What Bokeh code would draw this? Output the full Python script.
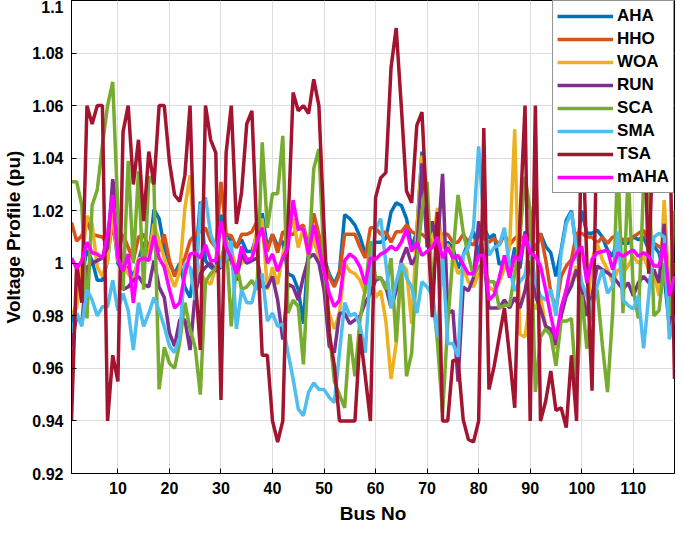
from bokeh.plotting import figure
from bokeh.models import FixedTicker, Legend, LegendItem, Range1d
from bokeh.embed import file_html
from bokeh.resources import INLINE

bus = list(range(1, 119))

AHA = [0.976, 0.985, 0.995, 1.005, 1.001, 0.9935, 0.9935, 1.001, 1.0185, 1.0,
       0.997, 0.9985, 0.995, 1.001, 1.008, 1.002, 1.0205, 1.017, 1.006, 1.0,
       0.996, 1.0, 0.991, 0.987, 1.0, 1.0235, 1.001, 0.9985, 0.997, 1.0185,
       1.011, 1.0085, 1.006, 1.009, 1.0045, 1.0045, 1.011, 1.019, 1.006, 1.011,
       1.0065, 1.0085, 0.996, 0.995, 0.99, 0.977, 1.006, 1.0085, 1.0035, 1.002,
       0.996, 0.992, 0.997, 1.0185, 1.017, 1.0145, 1.01, 1.0035, 1.006, 1.008,
       1.008, 1.0095, 1.0195, 1.023, 1.022, 1.017, 1.006, 1.012, 1.0425, 1.016,
       1.012, 1.016, 1.006, 1.008, 1.006, 0.998, 1.003, 1.008, 1.012, 1.003,
       1.0135, 1.0095, 1.011, 0.9995, 1.001, 0.996, 1.006, 0.998, 1.012, 1.01,
       1.005, 1.0114, 1.0064, 1.004, 0.995, 1.005, 1.0164, 1.02, 1.005, 1.02,
       1.0114, 1.0114, 1.0126, 1.01, 1.005, 1.0026, 1.01, 1.0076, 1.0076, 1.01,
       1.009, 1.01, 1.005, 1.0064, 1.004, 0.995, 0.976, 0.995]

HHO = [1.0155, 1.0085, 1.0105, 1.016, 1.011, 1.0105, 1.01, 1.007, 1.0135, 1.0045,
       1.011, 1.006, 1.001, 1.01, 1.011, 1.006, 1.011, 1.0045, 1.011, 1.001,
       0.995, 0.9985, 1.002, 1.0085, 1.011, 1.012, 1.0135, 1.0085, 1.006, 1.031,
       1.011, 1.0105, 1.006, 1.011, 1.011, 1.012, 1.016, 1.0145, 1.0045, 1.011,
       1.004, 1.012, 1.011, 1.011, 1.0135, 1.0145, 1.006, 1.019, 1.011, 1.001,
       0.995, 0.991, 0.996, 1.011, 1.011, 1.011, 1.006, 1.002, 1.0135, 1.0135,
       1.011, 1.012, 1.008, 1.012, 1.012, 1.0145, 1.012, 1.011, 1.011, 1.0095,
       1.008, 1.012, 1.011, 1.011, 1.008, 1.008, 1.011, 1.008, 1.007, 1.011,
       1.0095, 1.008, 1.0095, 1.007, 1.011, 1.007, 1.0095, 1.011, 1.007, 1.01,
       1.005, 1.0114, 1.0014, 0.989, 0.9826, 0.995, 0.999, 1.0014, 1.0114, 1.0114,
       1.01, 1.01, 1.0076, 1.01, 1.0076, 1.01, 1.01, 1.009, 1.009, 1.01,
       1.0114, 1.0126, 1.0076, 1.0076, 1.0064, 1.005, 0.9876, 1.0]

WOA = [0.981, 0.983, 1.0, 1.018, 1.015, 0.9985, 0.995, 1.001, 1.02, 1.001,
       1.0, 0.996, 0.9935, 1.002, 1.001, 1.0035, 1.015, 1.0085, 1.002, 0.996,
       0.991, 0.997, 1.021, 1.0335, 1.0035, 0.996, 0.9935, 0.992, 0.9985, 1.001,
       1.0085, 1.005, 0.998, 1.0, 1.002, 1.001, 1.0135, 1.017, 0.99, 0.9985,
       0.992, 1.0035, 1.01, 1.017, 1.006, 1.0135, 1.002, 1.01, 1.002, 0.99,
       0.981, 0.975, 0.981, 1.0, 0.997, 0.996, 0.9935, 0.9885, 0.996, 0.987,
       0.9895, 0.978, 0.956, 0.9695, 1.0, 0.9975, 0.977, 1.012, 1.041, 1.012,
       1.006, 1.021, 1.006, 1.007, 1.002, 0.996, 0.998, 0.993, 0.991, 0.996,
       0.9995, 0.991, 0.9895, 0.993, 0.998, 1.006, 1.051, 0.973, 0.972, 0.986,
       0.9826, 0.9876, 0.976, 0.9726, 0.9676, 0.98, 0.99, 0.9926, 0.999, 0.984,
       0.98, 1.0014, 1.0076, 1.0014, 0.9976, 0.9926, 0.9976, 0.9964, 0.999, 1.0026,
       1.0, 1.0026, 0.9976, 0.9964, 0.9876, 1.024, 0.9876, 0.995]

RUN = [0.9685, 0.98, 0.977, 0.9985, 1.0, 1.001, 1.002, 1.006, 1.032, 1.0185,
       0.99, 0.991, 0.9935, 0.995, 0.992, 0.991, 1.001, 0.991, 0.987, 0.9735,
       0.9685, 0.9785, 0.9785, 0.967, 0.9885, 0.996, 0.9985, 1.0, 0.997, 0.9985,
       1.0035, 1.001, 0.9935, 1.0035, 1.0, 1.001, 1.002, 0.991, 0.991, 0.995,
       0.986, 0.971, 0.992, 0.991, 0.986, 0.995, 1.002, 1.0035, 1.0, 0.99,
       0.9685, 0.966, 0.981, 0.981, 0.977, 0.9785, 0.98, 0.985, 0.9885, 0.9935,
       0.9945, 0.991, 0.983, 0.9895, 1.001, 1.006, 0.9995, 1.003, 1.038, 1.006,
       1.016, 1.006, 1.034, 0.981, 0.982, 0.955, 0.991, 0.9895, 0.9945, 1.016,
       1.001, 0.983, 0.983, 0.983, 0.986, 0.983, 0.987, 0.983, 0.9895, 1.001,
       0.9876, 0.9826, 0.976, 0.975, 0.969, 0.98, 0.9876, 0.9914, 0.9976, 0.99,
       0.98, 0.9876, 0.999, 0.9976, 0.9964, 0.995, 0.9926, 0.99, 0.9926, 0.9876,
       0.9926, 0.995, 0.9926, 0.9976, 0.9926, 1.015, 0.976, 0.995]

SCA = [1.031, 1.031, 1.022, 0.979, 1.022, 1.028, 1.045, 1.06, 1.069, 1.02,
       0.99, 1.039, 1.0, 1.035, 0.99, 1.033, 1.03, 0.952, 0.968, 0.962,
       0.96, 0.97, 0.985, 0.975, 0.968, 0.95, 0.993, 0.996, 0.998, 1.0,
       1.01, 0.976, 1.0, 0.99, 0.991, 0.9935, 0.99, 1.046, 1.0135, 1.0265,
       1.0265, 1.0485, 0.981, 0.986, 0.9835, 0.9615, 1.001, 1.036, 1.0435, 1.0,
       0.975, 0.955, 0.95, 0.945, 0.973, 0.957, 0.979, 0.99, 1.0085, 0.9945,
       0.9945, 0.99, 1.002, 0.97, 1.0, 0.957, 0.9658, 1.0, 1.02, 1.031,
       0.99, 0.97, 0.943, 0.977, 1.003, 1.026, 1.012, 1.003, 0.995, 0.999,
       0.998, 0.993, 0.993, 0.983, 0.984, 0.984, 0.996, 1.01, 1.033, 1.02,
       0.951, 0.972, 0.975, 0.9725, 0.961, 0.978, 0.978, 0.979, 0.951, 0.988,
       0.9675, 0.985, 0.99, 0.969, 0.951, 0.981, 1.04, 0.981, 1.035, 0.99,
       0.979, 1.03, 1.035, 0.98, 0.982, 1.0, 0.98, 1.02]

SMA = [0.9735, 0.981, 0.976, 0.99, 0.986, 0.98, 0.9835, 0.9835, 0.9935, 0.982,
       0.9885, 0.982, 0.967, 0.985, 0.976, 0.981, 0.987, 0.982, 0.976, 0.9685,
       0.966, 0.972, 1.0, 0.9985, 0.986, 1.022, 1.025, 1.011, 1.006, 0.9985,
       1.002, 1.0085, 0.975, 0.99, 0.985, 0.985, 0.9935, 0.996, 0.978, 0.981,
       0.976, 0.977, 0.966, 0.956, 0.9445, 0.942, 0.951, 0.9545, 0.952, 0.952,
       0.949, 0.947, 0.966, 0.985, 0.98, 0.981, 0.976, 0.966, 0.997, 1.013,
       1.017, 1.0, 0.983, 0.993, 1.0, 0.9945, 0.991, 0.981, 0.993, 0.991,
       0.988, 0.972, 1.003, 0.9695, 0.9695, 0.9645, 1.003, 1.006, 1.0135, 1.0445,
       1.016, 1.003, 1.006, 1.007, 1.0135, 0.998, 0.9895, 0.993, 0.9955, 1.0076,
       0.9926, 0.9876, 0.986, 0.99, 0.98, 1.004, 1.015, 1.0195, 1.005, 0.9926,
       0.9876, 0.9826, 0.9914, 0.9976, 0.9886, 0.9914, 1.012, 0.986, 0.984, 0.9826,
       0.9876, 0.9676, 0.9876, 1.01, 1.0114, 1.01, 0.971, 0.98]

TSA = [0.94, 1.0, 0.985, 1.06, 1.053, 1.06, 1.06, 0.94, 0.965, 0.955,
       1.05, 1.06, 1.03, 1.047, 1.016, 1.0425, 1.03, 1.06, 1.06, 1.0385,
       1.026, 1.0235, 1.0335, 1.06, 0.995, 0.967, 1.06, 1.047, 1.042, 0.948,
       1.042, 1.06, 1.015, 1.027, 1.053, 1.058, 1.01, 0.965, 0.965, 0.94,
       0.932, 0.94, 1.0135, 1.065, 1.058, 1.06, 1.057, 1.07, 1.06, 1.0135,
       0.9735, 0.961, 0.94, 0.94, 0.94, 0.94, 0.973, 0.957, 0.94, 1.025,
       1.0325, 1.0345, 1.0745, 1.0895, 1.0595, 1.0275, 1.023, 1.0525, 1.0575, 1.018,
       0.9795, 1.0195, 0.94, 0.94, 0.963, 0.963, 0.9405, 0.933, 0.932, 0.94,
       1.0515, 0.952, 0.9608, 0.972, 0.983, 0.9645, 0.945, 1.016, 1.06, 0.94,
       1.06, 0.94, 0.9475, 0.959, 0.944, 0.945, 0.9375, 0.965, 0.94, 1.06,
       1.0, 0.9515, 1.06, 1.06, 1.05, 1.06, 1.045, 1.06, 1.05, 1.06,
       1.055, 1.06, 0.996, 1.06, 1.05, 1.06, 1.06, 0.956]

mAHA = [1.002, 0.998, 1.001, 1.008, 1.004, 1.0035, 1.002, 1.011, 1.026, 1.002,
        0.997, 1.0035, 0.985, 1.001, 1.002, 1.001, 1.0105, 1.002, 0.9985, 0.99,
        0.983, 0.985, 0.996, 1.0035, 1.004, 1.002, 1.007, 1.001, 1.001, 1.016,
        1.006, 1.002, 0.996, 1.0065, 1.001, 1.002, 1.0085, 1.0135, 1.0, 1.0035,
        0.997, 1.002, 1.006, 1.024, 1.013, 1.013, 1.0035, 1.0145, 1.006, 0.997,
        0.9885, 0.9835, 0.986, 1.001, 1.0035, 1.002, 0.9985, 0.992, 1.002, 1.0015,
        1.0035, 1.0045, 1.0065, 1.005, 1.008, 1.013, 1.0045, 1.008, 1.003, 1.0045,
        1.006, 1.01, 1.002, 1.006, 1.002, 1.003, 0.9995, 0.996, 0.996, 1.003,
        1.003, 0.986, 0.988, 0.9945, 1.003, 0.9945, 1.003, 1.001, 1.011, 1.004,
        1.0026, 0.999, 0.99, 0.98, 0.971, 0.983, 0.99, 1.0, 1.004, 1.0064,
        0.9926, 1.0014, 1.004, 1.0045, 1.005, 0.9976, 1.004, 1.0026, 1.004, 1.005,
        1.0026, 1.004, 1.0026, 0.999, 0.999, 1.0076, 0.9876, 0.995]

series_names = ["AHA", "HHO", "WOA", "RUN", "SCA", "SMA", "TSA", "mAHA"]
series_values = [AHA, HHO, WOA, RUN, SCA, SMA, TSA, mAHA]
colors = ["#0072BD", "#D95319", "#EDB120", "#7E2F8E", "#77AC30", "#4DBEEE", "#A2142F", "#FF00FF"]

x_ticks = [10, 20, 30, 40, 50, 60, 70, 80, 90, 100, 110]
y_ticks = [0.92, 0.94, 0.96, 0.98, 1.0, 1.02, 1.04, 1.06, 1.08, 1.1]
y_tick_labels = ["0.92", "0.94", "0.96", "0.98", "1", "1.02", "1.04", "1.06", "1.08", "1.1"]

FONT = "Liberation Sans"

p = figure(frame_width=603, frame_height=473,
           x_range=Range1d(1, 118), y_range=Range1d(0.92, 1.1),
           output_backend="svg", toolbar_location=None,
           min_border_left=64, min_border_right=2, min_border_top=0, min_border_bottom=54,
           background_fill_color="white", border_fill_color="white")

items = []
for name, vals, col in zip(series_names, series_values, colors):
    r = p.line(bus, vals, line_color=col, line_width=3.5)
    items.append(LegendItem(label=name, renderers=[r]))

p.xaxis.ticker = FixedTicker(ticks=x_ticks)
p.yaxis.ticker = FixedTicker(ticks=y_ticks)
p.yaxis.major_label_overrides = {t: s for t, s in zip(y_ticks, y_tick_labels)}
p.xgrid.ticker = FixedTicker(ticks=x_ticks)
p.ygrid.ticker = FixedTicker(ticks=y_ticks)

for ax in (p.xaxis[0], p.yaxis[0]):
    ax.axis_line_color = "black"
    ax.axis_line_width = 1
    ax.major_tick_in = 5
    ax.major_tick_out = 0
    ax.minor_tick_line_color = None
    ax.major_tick_line_color = "black"
    ax.major_label_text_font = FONT
    ax.major_label_text_font_style = "bold"
    ax.major_label_text_font_size = "16px"
    ax.major_label_text_color = "black"
    ax.axis_label_text_font = FONT
    ax.axis_label_text_font_style = "bold"
    ax.axis_label_text_font_size = "19px"
    ax.axis_label_text_color = "black"

p.xaxis.axis_label = "Bus No"
p.yaxis.axis_label = "Voltage Profile (pu)"
p.xaxis.major_label_standoff = 8
p.xaxis.axis_label_standoff = 6
p.yaxis.major_label_standoff = 8
p.yaxis.axis_label_standoff = 5

p.grid.grid_line_color = "#dedede"
p.grid.grid_line_width = 1
p.outline_line_color = "black"
p.outline_line_width = 1

legend = Legend(items=items, location="top_right", margin=0, padding=4, spacing=1,
                label_height=22, glyph_height=22, glyph_width=56, label_standoff=4,
                label_text_font=FONT, label_text_font_style="bold", label_text_font_size="17px",
                label_text_color="black",
                border_line_color="#262626", border_line_width=1,
                background_fill_color="white", background_fill_alpha=1.0)
p.add_layout(legend)

open("out.html", "w").write(file_html(p, INLINE))
